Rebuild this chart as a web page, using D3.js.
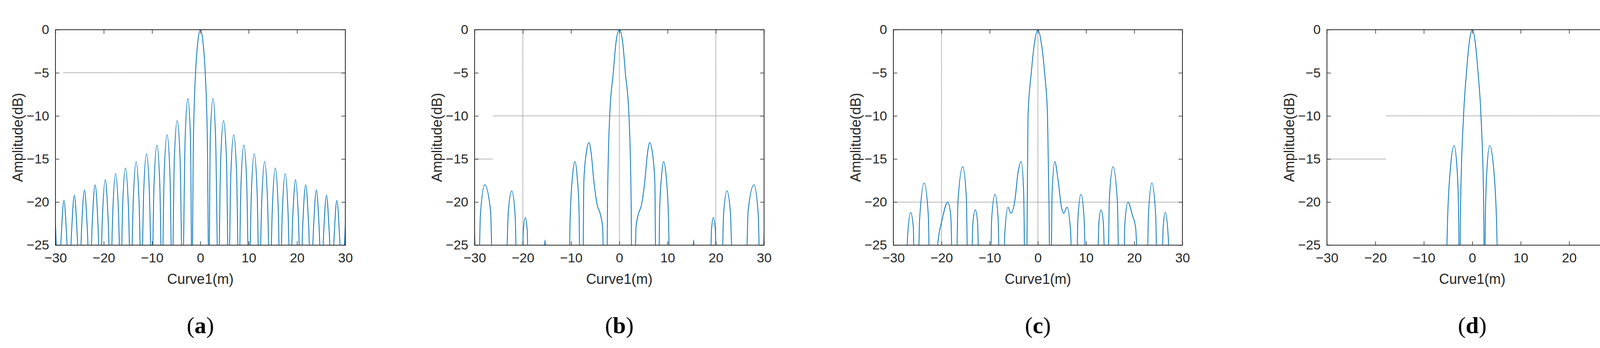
<!DOCTYPE html>
<html><head><meta charset="utf-8">
<script src="https://cdn.jsdelivr.net/npm/d3@7"></script>
<style>body{margin:0;background:#fff}</style></head>
<body><svg id="c" width="4187" height="890"></svg>
<script>
const xTicks = [-30,-20,-10,0,10,20,30];
const yTicks = [0,-5,-10,-15,-20,-25];
const captions = ["(a)","(b)","(c)","(d)"];
const xLabel = "Curve1(m)";
const yLabel = "Amplitude(dB)";

// panel (a): right half listed, mirrored (symmetric pattern)
const curveAHalf = [[0,0],[0.55,-1.5],[1.0,-5],[1.45,-13],[1.75,-30],
[2.05,-12.6],[2.6,-8.0],[3.15,-12.6],[3.7,-30],
[4.2,-15.1],[4.8,-10.55],[5.4,-15.1],[5.85,-30],
[6.3,-16.8],[6.9,-12.2],[7.5,-16.8],[7.95,-30],
[8.4,-18.0],[9.0,-13.4],[9.6,-18.0],[10.05,-30],
[10.55,-19.0],[11.15,-14.4],[11.75,-19.0],[12.2,-30],
[12.7,-19.9],[13.3,-15.3],[13.9,-19.9],[14.4,-30],
[14.9,-20.6],[15.5,-16.05],[16.1,-20.6],[16.5,-30],
[16.95,-21.3],[17.55,-16.7],[18.15,-21.3],[18.6,-30],
[19.1,-22.0],[19.7,-17.4],[20.3,-22.0],[20.75,-30],
[21.2,-22.6],[21.8,-18.0],[22.4,-22.6],[22.9,-30],
[23.4,-23.2],[24.0,-18.6],[24.6,-23.2],[25.05,-30],
[25.5,-23.8],[26.1,-19.2],[26.7,-23.8],[27.2,-30],
[27.65,-24.4],[28.25,-19.8],[28.85,-24.4],[29.3,-30],
[30,-22.5]];
const curveBHalf = [[0,0],[0.7,-1.5],[1.25,-5],[2.0,-10],[2.45,-20],[2.6,-30],
[3.2,-30],[3.45,-23],[3.85,-21.6],[4.6,-20.3],[5.3,-17.5],[5.8,-14.5],[6.3,-13.1],[6.85,-14.3],[7.35,-17.5],[7.6,-30],
[8.15,-30],[8.35,-21],[8.75,-17.0],[9.2,-15.3],[9.7,-17.0],[10.2,-22],[10.5,-30],
[15.1,-30],[15.4,-24.4],[15.75,-30],
[18.8,-30],[19.1,-23.2],[19.5,-21.8],[19.9,-23.2],[20.2,-30],
[21.2,-30],[21.6,-21.5],[22.3,-18.7],[23.0,-21.0],[23.6,-30],
[26.2,-30],[26.7,-21.0],[27.9,-18.0],[28.8,-21.5],[29.2,-30],
[29.6,-30],[30,-23.4]];
const curveC = [[-27.3,-30],[-27.05,-24],[-26.4,-21.2],[-25.85,-23],[-25.6,-30],
[-24.9,-30],[-24.55,-22],[-23.6,-17.8],[-22.75,-21.5],[-22.4,-30],
[-20.95,-30],[-20.8,-25],[-19.9,-22.1],[-18.7,-20.0],[-18.1,-21.5],[-17.6,-30],
[-16.95,-30],[-16.6,-20],[-15.6,-15.9],[-14.85,-19.5],[-14.5,-30],
[-13.85,-30],[-13.5,-22.5],[-13.0,-20.9],[-12.5,-22.5],[-12.2,-30],
[-9.9,-30],[-9.6,-22],[-8.9,-19.1],[-8.25,-22],[-7.9,-30],
[-7.1,-30],[-6.9,-24],[-6.2,-20.6],[-5.6,-21.3],[-4.8,-19.9],[-4.1,-16.5],[-3.45,-15.3],[-2.95,-19],[-2.65,-30],
[-2.35,-30],[-2.2,-20],[-2.05,-10],[-1.37,-5],[-0.7,-1.5],[0,0],[0.7,-1.5],[1.4,-5],[2.0,-10],[2.3,-20],[2.5,-30],
[2.7,-30],[2.95,-19],[3.5,-15.3],[4.2,-17.5],[4.9,-20.6],[5.35,-21.3],[6.05,-20.6],[6.8,-23.5],[7.15,-30],
[8.0,-30],[8.3,-22],[8.95,-19.1],[9.6,-22],[10.0,-30],
[12.3,-30],[12.65,-22.5],[13.1,-20.9],[13.6,-22.5],[14.0,-30],
[14.5,-30],[14.85,-19.5],[15.6,-15.9],[16.5,-20],[16.9,-30],
[17.75,-30],[18.05,-22.5],[18.7,-20.0],[19.6,-21.5],[20.3,-23.0],[20.9,-30],
[22.6,-30],[22.95,-21.5],[23.65,-17.8],[24.45,-21.5],[24.8,-30],
[25.7,-30],[26.0,-23],[26.45,-21.2],[27.05,-24],[27.4,-30]];
const curveD = [[-5.45,-30],[-5.1,-22],[-4.5,-16],[-3.75,-13.45],[-3.1,-16.5],[-2.8,-22],[-2.65,-30],
[-2.6,-30],[-2.4,-20],[-1.8,-10],[-1.2,-5],[-0.6,-1.4],[0,0],[0.6,-1.4],[1.2,-5],[1.8,-10],[2.35,-20],[2.5,-30],
[2.55,-30],[2.7,-22],[3.0,-16.5],[3.6,-13.45],[4.4,-16],[5.0,-22],[5.35,-30]];

const gridV = [[],[-20,0,20],[-20,0],[]];
const gridH = [[[-5,-28.4,30]],[[-10,-26.2,30],[-15,-30,-26.2]],[[-20,-30,30]],[[-15,-30,-17.8],[-10,-17.8,30]]];

const mirror = h => h.slice(1).map(([x,y])=>[-x,y]).reverse().concat(h);
const curves = [mirror(curveAHalf), mirror(curveBHalf), curveC, curveD];

const lefts=[142,1215,2287,3397], rights=[884,1956,3027,4141];
const yTop=76, yBot=627;
const svg=d3.select("#c");
const font="'Liberation Sans', Arial, sans-serif";
const ink="#262626";

curves.forEach((data,i)=>{
  const x=d3.scaleLinear().domain([-30,30]).range([lefts[i],rights[i]]);
  const y=d3.scaleLinear().domain([-25,0]).range([yBot,yTop]);
  const g=svg.append("g");
  const cid="clip"+i;
  g.append("clipPath").attr("id",cid).append("rect").attr("x",x(-30)).attr("y",yTop).attr("width",x(30)-x(-30)).attr("height",yBot-yTop);
  gridV[i].forEach(v=>g.append("line").attr("x1",x(v)).attr("x2",x(v)).attr("y1",yTop).attr("y2",yBot)
     .attr("stroke","#444").attr("stroke-width",1.2).attr("stroke-dasharray","1.5,1"));
  gridH[i].forEach(([v,a,b])=>g.append("line").attr("x1",x(a)).attr("x2",x(b)).attr("y1",y(v)).attr("y2",y(v))
     .attr("stroke","#444").attr("stroke-width",1.2).attr("stroke-dasharray","1.5,1"));
  g.append("path").datum(data).attr("clip-path",`url(#${cid})`)
   .attr("d",d3.line().x(d=>x(d[0])).y(d=>y(d[1])).curve(d3.curveMonotoneX))
   .attr("fill","none").attr("stroke","#0072BD").attr("stroke-width",2);
  const ax=(gen,tr)=>{const a=g.append("g").attr("transform",tr).call(gen);
    a.select(".domain").remove(); a.selectAll("line").attr("stroke",ink).attr("stroke-width",1.5);
    a.selectAll("text").attr("fill",ink).style("font-family",font).style("font-size","34px"); return a;};
  ax(d3.axisBottom(x).tickValues(xTicks).tickSize(-10).tickPadding(20),`translate(0,${yBot})`);
  ax(d3.axisTop(x).tickValues(xTicks).tickSize(-10).tickFormat(""),`translate(0,${yTop})`);
  ax(d3.axisLeft(y).tickValues(yTicks).tickSize(-10).tickPadding(16),`translate(${x(-30)},0)`);
  ax(d3.axisRight(y).tickValues(yTicks).tickSize(-10).tickFormat(""),`translate(${x(30)},0)`);
  g.append("rect").attr("x",x(-30)).attr("y",yTop).attr("width",x(30)-x(-30)).attr("height",yBot-yTop)
   .attr("fill","none").attr("stroke",ink).attr("stroke-width",2);
  const cx=(x(-30)+x(30))/2;
  g.append("text").attr("x",cx).attr("y",726).attr("text-anchor","middle").attr("fill",ink)
   .style("font-family",font).style("font-size","36px").text(xLabel);
  g.append("text").attr("transform",`translate(${x(-30)-84},${(yTop+yBot)/2}) rotate(-90)`).attr("text-anchor","middle")
   .attr("fill",ink).style("font-family",font).style("font-size","36px").text(yLabel);
  const cap=g.append("text").attr("x",cx).attr("y",852).attr("text-anchor","middle").attr("fill","#000")
   .style("font-family","'Liberation Serif', serif").style("font-size","60px");
  cap.append("tspan").text("(");
  cap.append("tspan").attr("font-weight","bold").text(captions[i].slice(1,-1));
  cap.append("tspan").text(")");
});
</script></body></html>
